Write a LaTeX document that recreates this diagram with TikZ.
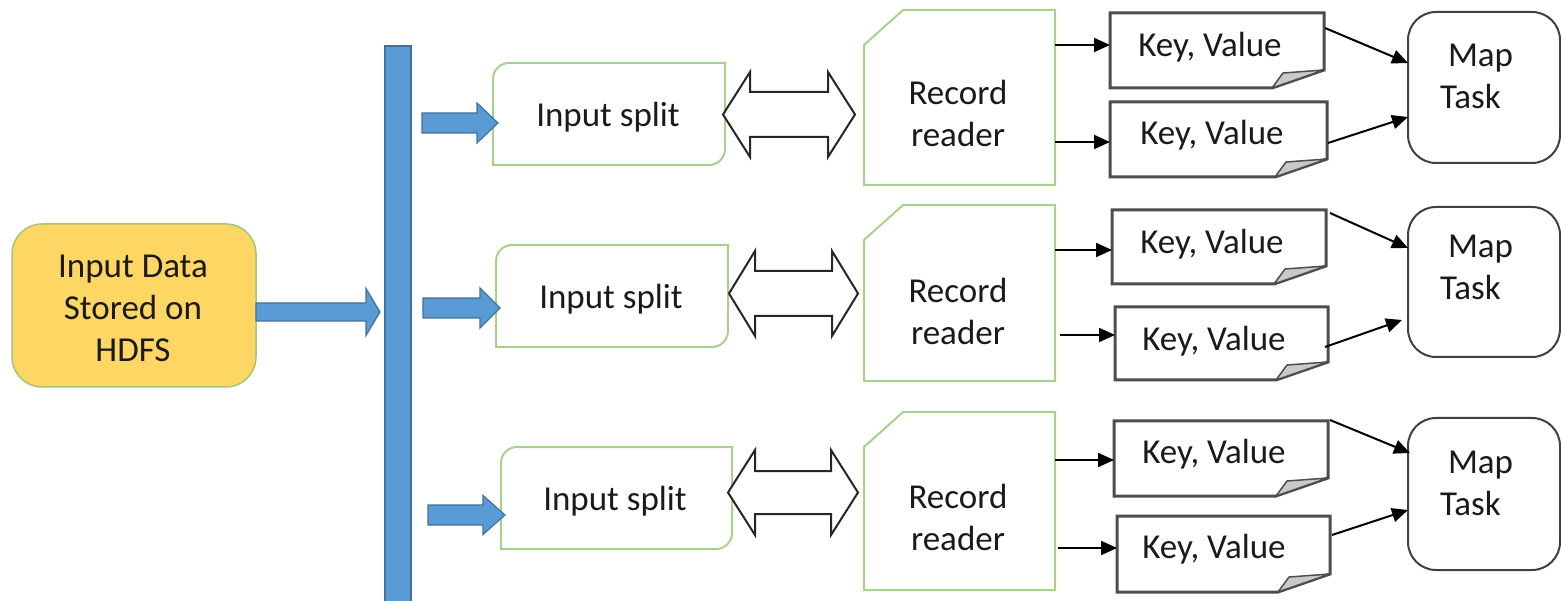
\documentclass[tikz,border=0pt]{standalone}
\usepackage{fontspec}
\setmainfont{Carlito}
\usetikzlibrary{calc,arrows.meta}

\definecolor{hdfsfill}{HTML}{FDD663}
\definecolor{hdfsline}{HTML}{A8C47A}
\definecolor{barfill}{HTML}{5B9BD5}
\definecolor{barline}{HTML}{41719C}
\definecolor{splitline}{HTML}{A9D18E}
\definecolor{kvline}{HTML}{4D4D4D}
\definecolor{foldfill}{HTML}{C9C9C9}
\definecolor{maplinecol}{HTML}{404040}
\definecolor{txtcol}{HTML}{1A1A1A}

\tikzset{
  every node/.style={font=\fontsize{35pt}{42pt}\selectfont, text=txtcol},
  box/.style 2 args={inner sep=0pt, outer sep=0pt, minimum width=#1pt, minimum height=#2pt},
  txt/.style={inner sep=0pt, outer sep=0pt, align=center},
  hdfsbox/.style={fill=hdfsfill, draw=hdfsline, line width=1.5pt, rounded corners=30pt},
  barbox/.style={fill=barfill, draw=barline, line width=1.5pt},
  blockarr/.style={fill=barfill, draw=barline, line width=1.2pt, line join=miter},
  dblarr/.style={fill=white, draw=black!85, line width=2pt, line join=miter},
  greenline/.style={draw=splitline, line width=2pt, line cap=rect},
  kvline/.style={draw=kvline, line width=3pt, line join=miter},
  foldpart/.style={fill=foldfill, draw=kvline, line width=1.5pt, line join=round},
  mapbox/.style={draw=maplinecol, line width=2pt, rounded corners=28pt},
  conn/.style={draw=black, line width=2pt, -{Triangle[length=16pt,width=14pt]}},
}

% horizontal block arrow: start, tip, shaft half height, head half height, head length
\newcommand\blockarrow[5]{%
  \path[blockarr] let \p1=#1, \p2=#2 in
    (\x1,\y1+#3) -- (\x2-#5,\y1+#3) -- (\x2-#5,\y1+#4) -- (\x2,\y1)
    -- (\x2-#5,\y1-#4) -- (\x2-#5,\y1-#3) -- (\x1,\y1-#3) -- cycle;}

% horizontal two-headed block arrow: left tip, right tip, shaft half height, head half height, head length
\newcommand\twowayarrow[5]{%
  \path[dblarr] let \p1=#1, \p2=#2 in
    (\x1,\y1) -- (\x1+#5,\y1+#4) -- (\x1+#5,\y1+#3) -- (\x2-#5,\y1+#3)
    -- (\x2-#5,\y1+#4) -- (\x2,\y1) -- (\x2-#5,\y1-#4) -- (\x2-#5,\y1-#3)
    -- (\x1+#5,\y1-#3) -- (\x1+#5,\y1-#4) -- cycle;}

% split box: rounded top-left and bottom-right corners
\newcommand\splitoutline[1]{%
  \draw[greenline, rounded corners=16pt] (#1.north east) -- (#1.south east) -- (#1.south west);
  \draw[greenline, rounded corners=16pt] (#1.south west) -- (#1.north west) -- (#1.north east);}

% reader box: cut top-left corner
\newcommand\readeroutline[1]{%
  \draw[greenline, line cap=butt, line join=miter] ($(#1.north west)+(0,35)$) -- ($(#1.north west)+(39,0)$)
    -- (#1.north east) -- (#1.south east) -- (#1.south west) -- cycle;}

% key/value page with a folded bottom-right corner
\newcommand\pageoutline[1]{%
  \draw[kvline] (#1.north west) -- (#1.north east) -- ($(#1.south east)+(0,-18)$)
    -- ($(#1.south east)+(-52,0)$) -- (#1.south west) -- cycle;
  \draw[foldpart] ($(#1.south east)+(-52,0)$) .. controls ($(#1.south east)+(-47,-8)$) .. ($(#1.south east)+(-41,-15)$)
    -- ($(#1.south east)+(0,-18)$) -- cycle;}

\begin{document}
\begin{tikzpicture}[x=1pt, y=-1pt]
\useasboundingbox (0,0) rectangle (1561,601);

% source and distribution bar
\node[box={244}{163}, hdfsbox] (data) at (134,305.5) {};
\node[txt] (datat) at (133,308) {Input Data\\Stored on\\HDFS};
\node[box={26}{580}, barbox] (bar) at (398,336) {};

% input splits
\node[box={232}{102}] (is1) at (609,114) {};
\node[box={232}{102}] (is2) at (612,296) {};
\node[box={231}{102}] (is3) at (616.5,498) {};
\splitoutline{is1}
\splitoutline{is2}
\splitoutline{is3}
\node[txt] (is1t) at (608,117) {Input split};
\node[txt] (is2t) at (611,299) {Input split};
\node[txt] (is3t) at (615,501) {Input split};

% record readers
\node[box={191}{175}] (rr1) at (959.5,97.5) {};
\node[box={191}{176}] (rr2) at (959.5,293) {};
\node[box={191}{178}] (rr3) at (959.5,501) {};
\readeroutline{rr1}
\readeroutline{rr2}
\readeroutline{rr3}
\node[txt] (rr1t) at (958,113) {Record\\reader};
\node[txt] (rr2t) at (958,311) {Record\\reader};
\node[txt] (rr3t) at (958,517) {Record\\reader};

% key/value pairs
\node[box={214}{75}] (kv1a) at (1217,50.5) {};
\node[box={217}{75}] (kv1b) at (1218.5,139.5) {};
\node[box={214}{74}] (kv2a) at (1219,247) {};
\node[box={213}{73}] (kv2b) at (1221.5,343.5) {};
\node[box={214}{75}] (kv3a) at (1221,458.5) {};
\node[box={213}{76}] (kv3b) at (1223.5,554) {};
\pageoutline{kv1a}
\pageoutline{kv1b}
\pageoutline{kv2a}
\pageoutline{kv2b}
\pageoutline{kv3a}
\pageoutline{kv3b}
\node[txt] (kv1at) at (1210,47.5) {Key, Value};
\node[txt] (kv1bt) at (1212,135.5) {Key, Value};
\node[txt] (kv2at) at (1212,244.5) {Key, Value};
\node[txt] (kv2bt) at (1214,341.5) {Key, Value};
\node[txt] (kv3at) at (1214,454.5) {Key, Value};
\node[txt] (kv3bt) at (1214,549.5) {Key, Value};

% map tasks
\node[box={152}{151}, mapbox] (map1) at (1484,87.5) {};
\node[box={152}{150}, mapbox] (map2) at (1484,282) {};
\node[box={152}{152}, mapbox] (map3) at (1484,494) {};
\node[txt, align=left, anchor=west] (map1t) at (1440,76) {\hspace*{8pt}Map\\Task};
\node[txt, align=left, anchor=west] (map2t) at (1440,267) {\hspace*{8pt}Map\\Task};
\node[txt, align=left, anchor=west] (map3t) at (1440,483) {\hspace*{8pt}Map\\Task};

% block arrows
\blockarrow{($(data.east)+(0,6.5)$)}{($(bar.west)+(-5,0)$)}{9pt}{23.5pt}{14pt}
\blockarrow{($(bar.east |- is1.west)+(11,9)$)}{($(is1.west)+(5,0)$)}{10pt}{20pt}{21pt}
\blockarrow{($(bar.east |- is2.west)+(12,12)$)}{($(is2.west)+(4,0)$)}{10pt}{20pt}{20pt}
\blockarrow{($(bar.east |- is3.west)+(17,17)$)}{($(is3.west)+(4,0)$)}{10pt}{19.5pt}{22pt}

\twowayarrow{($(is1.east)+(-2,0.5)$)}{($(rr1.west)+(-9,0)$)}{22.5pt}{42.5pt}{27pt}
\twowayarrow{($(is2.east)+(1,-2.5)$)}{($(rr2.west)+(-6,0)$)}{22.5pt}{42.5pt}{26pt}
\twowayarrow{($(is3.east)+(-4,-5.5)$)}{($(rr3.west)+(-6,0)$)}{21.5pt}{42.5pt}{27pt}

% reader to key/value
\draw[conn] ($(rr1.east |- kv1a.west)+(0,-5.5)$) -- ($(kv1a.west)+(0,-5.5)$);
\draw[conn] ($(rr1.east |- kv1b.west)+(0,2.5)$) -- ($(kv1b.west)+(0,2.5)$);
\draw[conn] ($(rr2.east |- kv2a.west)+(0,3)$) -- ($(kv2a.west)+(0,3)$);
\draw[conn] ($(rr2.east |- kv2b.west)+(5,-8.5)$) -- ($(kv2b.west)+(0,-8.5)$);
\draw[conn] ($(rr3.east |- kv3a.west)+(0,1.5)$) -- ($(kv3a.west)+(0,1.5)$);
\draw[conn] ($(rr3.east |- kv3b.west)+(3,-6)$) -- ($(kv3b.west)+(0,-6)$);

% key/value to map task
\draw[conn] ($(kv1a.north east)+(1,15)$) -- ($(map1.west)+(0,-24.5)$);
\draw[conn] ($(kv1b.east)+(1,3.5)$) -- ($(map1.west)+(0,29.5)$);
\draw[conn] ($(kv2a.north east)+(4,3)$) -- ($(map2.west)+(0,-34)$);
\draw[conn] ($(kv2b.east)+(-3,3.5)$) -- ($(map2.west)+(-6,38)$);
\draw[conn] ($(kv3a.north east)+(2,-1)$) -- ($(map3.west)+(2,-41)$);
\draw[conn] ($(kv3b.east)+(2,-19)$) -- ($(map3.west)+(0,16)$);
\end{tikzpicture}
\end{document}
